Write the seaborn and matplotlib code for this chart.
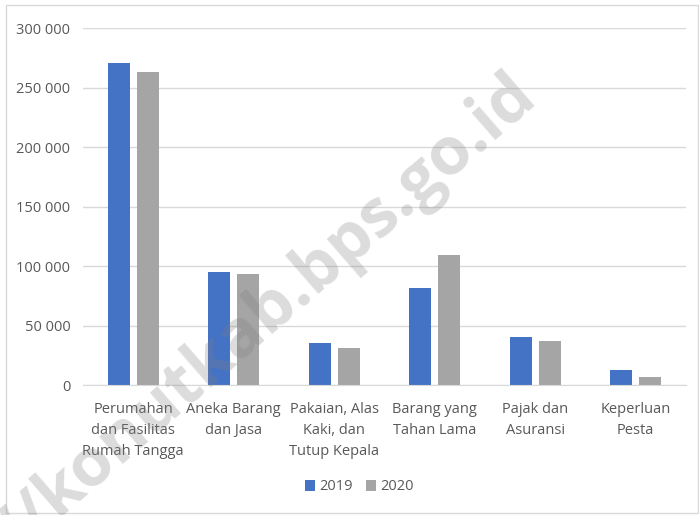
import pandas as pd
import numpy as np
import seaborn as sns
import matplotlib.pyplot as plt
from matplotlib.patches import Rectangle
from matplotlib.ticker import FuncFormatter

kategori = ['Perumahan\ndan Fasilitas\nRumah Tangga', 'Aneka Barang\ndan Jasa',
            'Pakaian, Alas\nKaki, dan\nTutup Kepala', 'Barang yang\nTahan Lama',
            'Pajak dan\nAsuransi', 'Keperluan\nPesta']
nilai_2019 = [270500, 95200, 35300, 81500, 40900, 12900]
nilai_2020 = [262700, 93800, 31300, 109500, 37500, 6700]
tahun = ['2019', '2020']
warna = ['#4472C4', '#A5A5A5']

df = pd.DataFrame({
    'kategori': kategori * 2,
    'nilai': nilai_2019 + nilai_2020,
    'tahun': np.repeat(tahun, len(kategori)),
})

sns.set_style('white')
plt.rcParams['font.family'] = ['Open Sans', 'DejaVu Sans']
teks = '#595959'
grid = '#D9D9D9'

fig = plt.figure(figsize=(6.99, 5.15), dpi=100)
ax = fig.add_axes([83/699, 1-385.3/515, 603/699, (385.3-28)/515])
sns.barplot(data=df, x='kategori', y='nilai', hue='tahun', palette=warna,
            saturation=1, width=0.58, gap=0.24, linewidth=0, ax=ax, legend=True)

ax.set_xlim(-0.5, 5.5)
ax.set_ylim(0, 300000)
ax.set_yticks(range(0, 300001, 50000))
ax.yaxis.set_major_formatter(FuncFormatter(lambda v, p: f'{int(v):,}'.replace(',', ' ')))
ax.yaxis.grid(True, color=grid, linewidth=1)
ax.set_axisbelow(True)
for s in ['top', 'right', 'left']:
    ax.spines[s].set_visible(False)
ax.spines['bottom'].set_color(grid)
ax.tick_params(axis='both', length=0, colors=teks, labelsize=10.5)
ax.tick_params(axis='x', pad=12)
ax.tick_params(axis='y', pad=9)
for lbl in ax.get_xticklabels():
    lbl.set_linespacing(1.55)
ax.set_xlabel('')
ax.set_ylabel('')

ax.get_legend().remove()
h, l = ax.get_legend_handles_labels()
fig.legend(h, l, loc='center', bbox_to_anchor=(0.514, 1-487/515), ncol=2,
           frameon=False, fontsize=10.5, labelcolor=teks, handlelength=0.7,
           handleheight=0.7, handletextpad=0.3, columnspacing=0.9)

fig.patches.append(Rectangle((6/699, 2/515), 692/699, 508/515, transform=fig.transFigure,
                             fill=False, edgecolor=grid, linewidth=1))

fig.text(538/699, 1-98/515, 'https://konutkab.bps.go.id', rotation=41,
         rotation_mode='anchor', ha='right', va='baseline', fontsize=48,
         fontweight='bold', color='#808080', alpha=0.28, zorder=5)

fig.savefig('out.png', dpi=100)
